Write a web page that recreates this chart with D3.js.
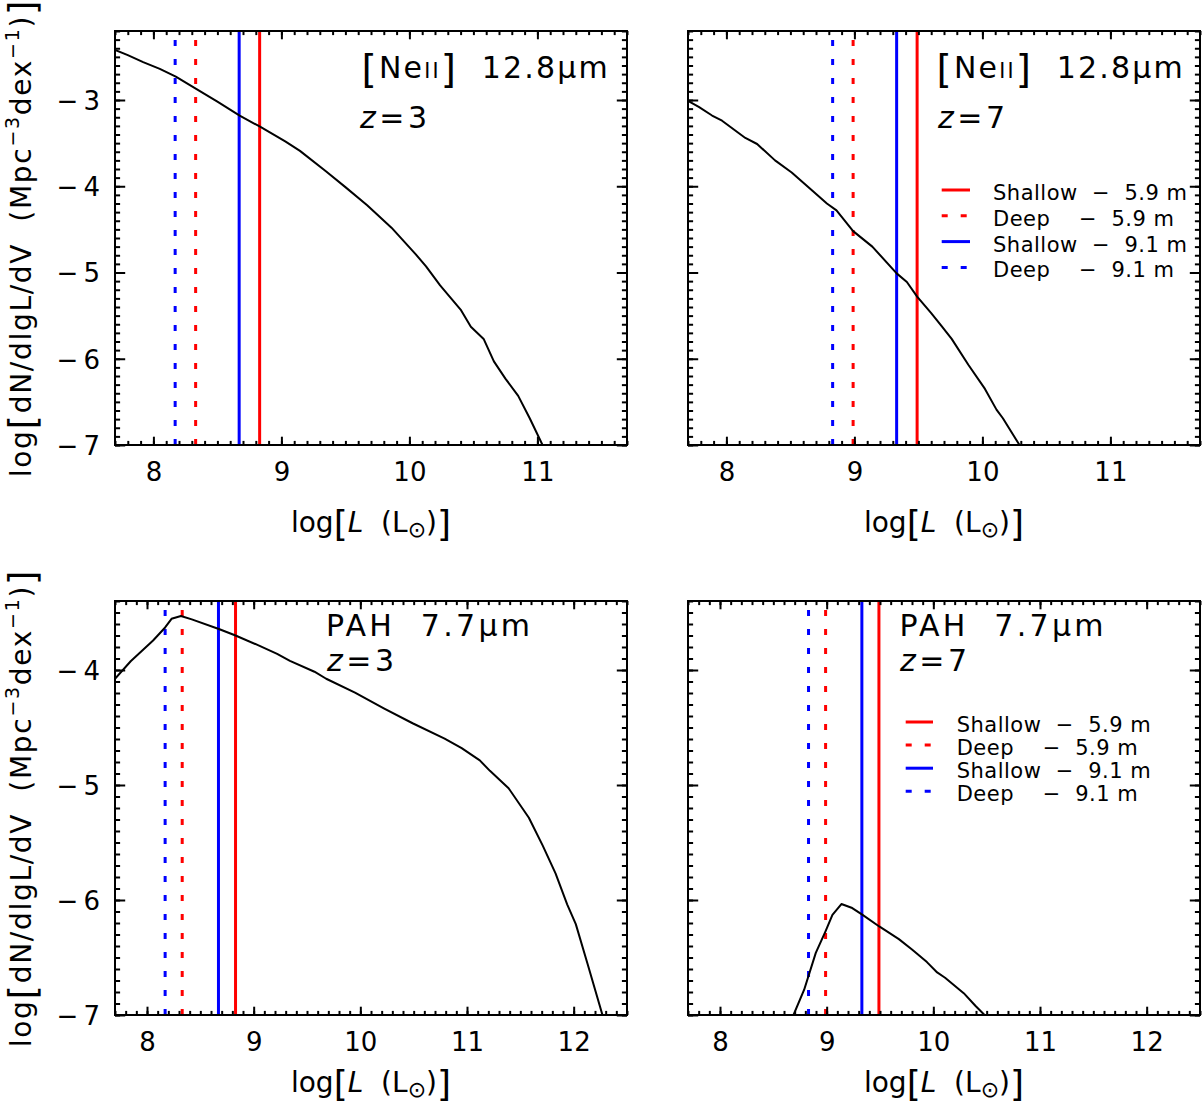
<!DOCTYPE html>
<html>
<head>
<meta charset="utf-8">
<script src="https://cdn.jsdelivr.net/npm/d3@7"></script>
<style>
  body { margin: 0; background: #fff; }
  text { font-family: "DejaVu Sans", sans-serif; fill: #000; }
</style>
</head>
<body>
<svg id="chart" width="1202" height="1106"></svg>
<script>
// ---- data ----
// [NeII] 12.8um, z=3
const neonZ3L   = [7.70, 7.80, 7.92, 8.05, 8.175, 8.334, 8.50, 8.674, 8.833, 9.03, 9.145, 9.35, 9.50, 9.67, 9.86, 10.05, 10.13, 10.24, 10.40, 10.48, 10.58, 10.66, 10.75, 10.85, 10.94, 11.04, 11.10];
const neonZ3Phi = [-2.42, -2.48, -2.56, -2.64, -2.73, -2.87, -3.02, -3.18, -3.31, -3.48, -3.59, -3.83, -4.01, -4.22, -4.48, -4.79, -4.93, -5.15, -5.43, -5.63, -5.77, -6.03, -6.23, -6.43, -6.69, -7.0, -7.15];
// [NeII] 12.8um, z=7
const neonZ7L   = [7.70, 7.784, 7.888, 7.966, 8.148, 8.24, 8.38, 8.51, 8.67, 8.785, 8.86, 8.99, 9.14, 9.33, 9.41, 9.49, 9.60, 9.68, 9.76, 9.89, 10.02, 10.11, 10.16, 10.29, 10.35];
const neonZ7Phi = [-3.01, -3.08, -3.18, -3.24, -3.44, -3.51, -3.70, -3.84, -4.05, -4.20, -4.28, -4.52, -4.70, -5.01, -5.11, -5.28, -5.47, -5.62, -5.77, -6.07, -6.35, -6.59, -6.69, -7.0, -7.12];
// PAH 7.7um, z=3
const pahZ3L   = [7.70, 7.847, 8.057, 8.17, 8.23, 8.318, 8.42, 8.68, 8.83, 9.03, 9.22, 9.34, 9.57, 9.68, 9.95, 10.22, 10.49, 10.79, 10.95, 11.12, 11.215, 11.39, 11.58, 11.71, 11.83, 11.94, 12.02, 12.13, 12.27, 12.32];
const pahZ3Phi = [-4.076, -3.924, -3.743, -3.63, -3.555, -3.531, -3.56, -3.646, -3.70, -3.78, -3.86, -3.92, -4.015, -4.076, -4.197, -4.333, -4.463, -4.596, -4.68, -4.786, -4.877, -5.028, -5.285, -5.527, -5.769, -6.04, -6.21, -6.555, -7.0, -7.15];
// PAH 7.7um, z=7
const pahZ7L   = [8.65, 8.689, 8.789, 8.898, 8.99, 9.054, 9.138, 9.24, 9.337, 9.493, 9.677, 9.80, 9.94, 10.036, 10.11, 10.285, 10.394, 10.48, 10.53];
const pahZ7Phi = [-7.12, -7.0, -6.78, -6.46, -6.27, -6.13, -6.035, -6.07, -6.13, -6.23, -6.34, -6.43, -6.54, -6.63, -6.676, -6.81, -6.92, -7.0, -7.05];

// survey limits: shallow 5.9, deep 5.9, shallow 9.1, deep 9.1
const limitsZ3 = [8.83, 8.33, 8.67, 8.17];
const limitsZ7 = [9.49, 8.99, 9.33, 8.83];
const limitColors = ["#ff0000", "#ff0000", "#0000ff", "#0000ff"];
const limitDeep = [false, true, false, true];
const legendLabels = ["Shallow  \u2212  5.9 m", "Deep    \u2212  5.9 m", "Shallow  \u2212  9.1 m", "Deep    \u2212  9.1 m"];

const xTicksNeon = [8, 9, 10, 11];
const xTicksPah = [8, 9, 10, 11, 12];
const yTicksNeon = [-3, -4, -5, -6, -7];
const yTicksPah = [-4, -5, -6, -7];

// ---- layout ----
const svg = d3.select("#chart");
const panelW = 512, panelH = 414;
const dash = "6,13";

const neonTitle = [
  {t: "[", size: 39, dy: 5}, {t: "Ne", dy: -5}, {t: "II", size: 20.5},
  {t: "]", size: 39, dy: 5}, {t: "  12.8\u03bcm", dy: -5}
];
const pahTitle = [{t: "PAH  7.7\u03bcm"}];

const panels = [
  {id: "a", left: 115, top: 31, xDom: [7.7, 11.7], yDom: [-7, -2.2], xTicks: xTicksNeon, yTicks: yTicksNeon,
   L: neonZ3L, phi: neonZ3Phi, limits: limitsZ3, title: neonTitle, z: "3", yLabels: true,
   titleX: 246.5, titleY: 47.3, titleLS: 2.2, zX: 245, zY: 97.3, xTitleY: 86.5, legend: null},
  {id: "b", left: 688, top: 31, xDom: [7.7, 11.7], yDom: [-7, -2.2], xTicks: xTicksNeon, yTicks: yTicksNeon,
   L: neonZ7L, phi: neonZ7Phi, limits: limitsZ7, title: neonTitle, z: "7", yLabels: false,
   titleX: 248.5, titleY: 47.3, titleLS: 2.2, zX: 250, zY: 97.3, xTitleY: 86.5,
   legend: {x0: 253.7, x1: 282, tx: 305, y0: 159, step: 25.8}},
  {id: "c", left: 115, top: 601, xDom: [7.7, 12.5], yDom: [-7, -3.4], xTicks: xTicksPah, yTicks: yTicksPah,
   L: pahZ3L, phi: pahZ3Phi, limits: limitsZ3, title: pahTitle, z: "3", yLabels: true,
   titleX: 211, titleY: 35, titleLS: 3.3, zX: 212, zY: 70, xTitleY: 77, legend: null},
  {id: "d", left: 688, top: 601, xDom: [7.7, 12.5], yDom: [-7, -3.4], xTicks: xTicksPah, yTicks: yTicksPah,
   L: pahZ7L, phi: pahZ7Phi, limits: limitsZ7, title: pahTitle, z: "7", yLabels: false,
   titleX: 211.5, titleY: 35, titleLS: 3.3, zX: 212, zY: 70, xTitleY: 77,
   legend: {x0: 217.7, x1: 245, tx: 268.7, y0: 121, step: 23.1}}
];

function addRuns(text, runs, baseSize) {
  runs.forEach(r => {
    const ts = text.append("tspan")
      .attr("font-size", r.size || baseSize)
      .text(r.t);
    if (r.dy) ts.attr("dy", r.dy);
    if (r.italic) ts.attr("font-style", "italic");
  });
}

const fmt = d => d < 0 ? "\u2212\u2009" + Math.abs(d) : String(d);

function styleAxis(g, size) {
  g.select(".domain").remove();
  g.selectAll(".tick line").attr("stroke", "#000").attr("stroke-width", 2);
  g.selectAll("text")
    .attr("font-family", '"DejaVu Sans", sans-serif')
    .attr("font-size", size)
    .attr("fill", "#000");
  g.attr("font-family", null).attr("font-size", null);
}

panels.forEach(p => {
  const g = svg.append("g").attr("transform", `translate(${p.left},${p.top})`);

  const x = d3.scaleLinear().domain(p.xDom).range([0, panelW]);
  const y = d3.scaleLinear().domain(p.yDom).range([panelH, 0]);

  g.append("clipPath").attr("id", "clip-" + p.id)
    .append("rect").attr("width", panelW).attr("height", panelH);

  const inner = g.append("g").attr("clip-path", `url(#clip-${p.id})`);

  // survey limit lines (dotted first, then solid)
  [1, 3, 2, 0].forEach(i => {
    inner.append("line")
      .attr("x1", x(p.limits[i])).attr("x2", x(p.limits[i]))
      .attr("y1", y(p.yDom[0])).attr("y2", y(p.yDom[1]))
      .attr("stroke", limitColors[i])
      .attr("stroke-width", 3)
      .attr("stroke-dasharray", limitDeep[i] ? dash : null);
  });

  // luminosity function
  const line = d3.line().x((d, i) => x(p.L[i])).y(d => y(d));
  inner.append("path")
    .attr("d", line(p.phi))
    .attr("fill", "none")
    .attr("stroke", "#000")
    .attr("stroke-width", 2)
    .attr("stroke-linejoin", "round");

  // axes: ticks inside on all four sides
  const xSpan = p.xDom[1] - p.xDom[0], ySpan = p.yDom[1] - p.yDom[0];
  const xMinor = x.ticks(Math.round(xSpan * 10));
  const yMinor = y.ticks(Math.round(ySpan * 10));
  const xMaj = 8.3, xMin = 4.1, yMaj = 10.2, yMin = 5.1;

  const gb = g.append("g").attr("transform", `translate(0,${panelH})`)
    .call(d3.axisBottom(x).tickValues(p.xTicks).tickSize(-xMaj).tickPadding(18).tickFormat(fmt));
  styleAxis(gb, 26);
  const gbm = g.append("g").attr("transform", `translate(0,${panelH})`)
    .call(d3.axisBottom(x).tickValues(xMinor).tickSize(-xMin).tickFormat(""));
  styleAxis(gbm, 26);
  const gt = g.append("g").call(d3.axisTop(x).tickValues(p.xTicks).tickSize(-xMaj).tickFormat(""));
  styleAxis(gt, 26);
  const gtm = g.append("g").call(d3.axisTop(x).tickValues(xMinor).tickSize(-xMin).tickFormat(""));
  styleAxis(gtm, 26);

  const gl = g.append("g")
    .call(d3.axisLeft(y).tickValues(p.yTicks).tickSize(-yMaj).tickPadding(15)
      .tickFormat(p.yLabels ? fmt : ""));
  styleAxis(gl, 26);
  gl.selectAll("text").attr("dy", "0.36em");
  const glm = g.append("g").call(d3.axisLeft(y).tickValues(yMinor).tickSize(-yMin).tickFormat(""));
  styleAxis(glm, 26);
  const gr = g.append("g").attr("transform", `translate(${panelW},0)`)
    .call(d3.axisRight(y).tickValues(p.yTicks).tickSize(-yMaj).tickFormat(""));
  styleAxis(gr, 26);
  const grm = g.append("g").attr("transform", `translate(${panelW},0)`)
    .call(d3.axisRight(y).tickValues(yMinor).tickSize(-yMin).tickFormat(""));
  styleAxis(grm, 26);

  // frame
  g.append("rect")
    .attr("width", panelW).attr("height", panelH)
    .attr("fill", "none").attr("stroke", "#000").attr("stroke-width", 2);

  // panel labels
  const t1 = g.append("text")
    .attr("x", p.titleX).attr("y", p.titleY)
    .attr("letter-spacing", p.titleLS)
    .style("white-space", "pre");
  addRuns(t1, p.title, 30);
  const t2 = g.append("text")
    .attr("x", p.zX).attr("y", p.zY)
    .attr("font-size", 30).attr("letter-spacing", 3.5);
  t2.append("tspan").attr("font-style", "italic").text("z");
  t2.append("tspan").text("=" + p.z);

  // legend
  if (p.legend) {
    const lg = p.legend;
    legendLabels.forEach((lab, i) => {
      const ry = lg.y0 + i * lg.step;
      g.append("line")
        .attr("x1", lg.x0).attr("x2", lg.x1)
        .attr("y1", ry).attr("y2", ry)
        .attr("stroke", limitColors[i])
        .attr("stroke-width", 3)
        .attr("stroke-dasharray", limitDeep[i] ? dash : null);
      g.append("text")
        .attr("x", lg.tx).attr("y", ry + 10)
        .attr("font-size", 21)
        .attr("letter-spacing", 0.5)
        .style("white-space", "pre")
        .text(lab);
    });
  }

  // x axis title
  const xt = g.append("text")
    .attr("x", panelW / 2).attr("y", panelH + p.xTitleY)
    .attr("text-anchor", "middle")
    .style("white-space", "pre");
  addRuns(xt, [
    {t: "log"}, {t: "[", size: 36, dy: 4}, {t: "L", italic: true, dy: -4},
    {t: "  (L"}, {t: "\u2299", size: 22, dy: 5}, {t: ")", dy: -5},
    {t: "]", size: 36, dy: 4}
  ], 28);

  // y axis title
  if (p.yLabels) {
    const yt = g.append("text")
      .attr("transform", `translate(${31 - p.left},${panelH / 2}) rotate(-90)`)
      .attr("text-anchor", "middle")
      .attr("letter-spacing", 1.7)
      .style("white-space", "pre");
    addRuns(yt, [
      {t: "log"}, {t: "[", size: 37, dy: 5}, {t: "dN/dlgL/dV  (Mpc", dy: -5},
      {t: "\u22123", size: 19, dy: -12}, {t: "dex", dy: 12},
      {t: "\u22121", size: 19, dy: -12}, {t: ")", dy: 12},
      {t: "]", size: 37, dy: 5}
    ], 28);
  }
});
</script>
</body>
</html>
